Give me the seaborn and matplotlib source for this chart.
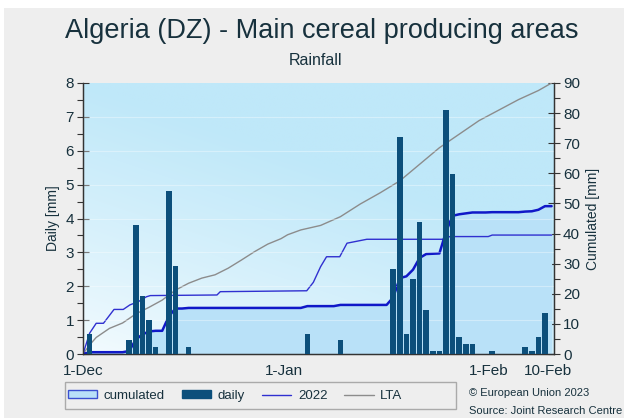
import numpy as np
import pandas as pd
import matplotlib
matplotlib.use("Agg")
import matplotlib.pyplot as plt
import seaborn as sns
from matplotlib.patches import Patch, Rectangle
from matplotlib.lines import Line2D
from matplotlib.ticker import MultipleLocator, FixedLocator
from matplotlib.colors import to_rgb

# ---------------- data ----------------
title = "Algeria (DZ) - Main cereal producing areas"
subtitle = "Rainfall"
y_left_label = "Daily [mm]"
y_right_label = "Cumulated [mm]"
x_tick_labels = ["1-Dec", "1-Jan", "1-Feb", "10-Feb"]
x_tick_days = [0, 30.5, 61.5, 70.5]
legend_labels = ["cumulated", "daily", "2022", "LTA"]
credit_lines = ["\u00a9 European Union 2023", "Source: Joint Research Centre"]

# daily rainfall (days since 1-Dec)
rain_days = [1, 7, 8, 9, 10, 11, 13, 14, 16, 34, 39, 47, 48, 49, 50, 51, 52, 53,
             54, 55, 56, 57, 58, 59, 62, 67, 68, 69, 70]
rain_mm = [0.6, 0.4, 3.8, 1.7, 1.0, 0.2, 4.8, 2.6, 0.2, 0.6, 0.4, 2.5, 6.4, 0.6,
           2.2, 3.9, 1.3, 0.1, 0.1, 7.2, 5.3, 0.5, 0.3, 0.3, 0.1, 0.2, 0.1, 0.5, 1.2]
season_last_day = 71

# previous season (2022) cumulated
y2022_days = [0, 1, 2, 3.1, 4.7, 6.1, 7.1, 8.4, 9.6, 10.2, 20.3, 20.8, 33.9, 34.9,
              36.0, 36.9, 38.9, 40.0, 43.0, 54.5, 55.6, 61.4, 62.0, 71.0]
y2022_mm = [0, 6.9, 10.2, 10.2, 14.8, 14.8, 16.3, 17.4, 19.0, 19.4, 19.6, 20.7, 21.0,
            23.8, 29.0, 32.3, 32.3, 36.8, 38.1, 38.1, 39.0, 39.0, 39.5, 39.5]

# long term average cumulated
lta_days = [0, 1, 2, 4, 6, 8, 10, 12, 14, 16, 18, 20, 22, 24, 26, 28, 30, 31, 33, 36,
            39, 42, 45, 48, 51, 54, 57, 60, 63, 66, 69, 71]
lta_mm = [0, 3.0, 5.5, 8.5, 10.3, 13.3, 15.5, 17.9, 21.2, 23.5, 25.2, 26.3, 28.5, 31.2,
          34.0, 36.5, 38.3, 39.6, 41.2, 42.7, 45.6, 49.8, 53.5, 57.5, 63.0, 68.5, 73.0,
          77.5, 81.0, 84.5, 87.5, 90.0]

# ---------------- style ----------------
sns.set_style("white")
plt.rcParams['font.family'] = ['Liberation Sans', 'DejaVu Sans']
text_col = "#17313d"
bar_col = "#0c4f7b"
cum_col = "#1018c8"
fill_col = "#b9e1f8"
col2022 = "#3030d0"
lta_col = "#8c8c8c"
fig_bg = "#eeeeee"

fig = plt.figure(figsize=(6.24, 4.18), dpi=100, facecolor="white")
fig.patches.append(Rectangle((4 / 624, 0), 1, 1 - 8 / 418, transform=fig.transFigure,
                             facecolor=fig_bg, edgecolor="none", zorder=-10))

L, R = 83 / 624, 554 / 624
B, T = 1 - 354 / 418, 1 - 83 / 418
ax = fig.add_axes([L, B, R - L, T - B])
ax2 = ax.twinx()
ax2.set_zorder(1)
ax.set_zorder(2)
ax.patch.set_visible(False)

# background gradient
W, H = 200, 200
gx = np.linspace(0, 1, W)[None, :]
gy = np.linspace(0, 1, H)[:, None]
t = np.clip(0.05 + 0.95 * gy + 0.55 * gx, 0, 1) ** 0.8
top = np.array(to_rgb("#bfe8f9"))
img = (1 - t)[..., None] * np.array([0.975, 0.992, 1.0]) + t[..., None] * top
ax2.imshow(img, extent=(0, 1, 0, 1), transform=ax2.transAxes, origin="lower",
           aspect="auto", zorder=0, interpolation="bilinear")

# cumulated series from daily values
daily = pd.Series(0.0, index=np.arange(season_last_day + 1))
daily.loc[rain_days] = rain_mm
cum = daily.cumsum()
cum_df = pd.DataFrame({"day": cum.index, "mm": cum.values})

ax2.fill_between(cum_df["day"], cum_df["mm"], 0, color=fill_col, lw=0, zorder=1)
sns.lineplot(x=lta_days, y=lta_mm, ax=ax2, color=lta_col, lw=1.0, zorder=2)
sns.lineplot(x=y2022_days, y=y2022_mm, ax=ax2, color=col2022, lw=1.0, zorder=3)
sns.lineplot(data=cum_df, x="day", y="mm", ax=ax2, color=cum_col, lw=1.8, zorder=4)

# daily bars
sns.barplot(x=rain_days, y=rain_mm, ax=ax, native_scale=True, width=0.87,
            color=bar_col, saturation=1, linewidth=0, zorder=3)

# faint grid
for yv in range(1, 8):
    ax.axhline(yv, color="white", lw=0.8, alpha=0.35, zorder=1)

xmax = (554 - 83) / 6.6
ax.set_xlim(0, xmax)
ax2.set_xlim(0, xmax)
ax.set_ylim(0, 8)
ax2.set_ylim(0, 90)

ax.xaxis.set_major_locator(FixedLocator(x_tick_days))
ax.set_xticklabels(x_tick_labels)
ax.xaxis.set_minor_locator(FixedLocator(np.arange(0.5, xmax, 1.0)))
ax.yaxis.set_major_locator(MultipleLocator(1))
ax.yaxis.set_minor_locator(MultipleLocator(0.5))
ax2.yaxis.set_major_locator(MultipleLocator(10))
ax2.yaxis.set_minor_locator(MultipleLocator(5))

ax.tick_params(axis="y", which="major", direction="inout", length=9, width=0.8,
               colors="#333333", labelcolor=text_col, labelsize=11, pad=2)
ax.tick_params(axis="y", which="minor", direction="out", length=4, width=0.8, colors="#333333")
ax.tick_params(axis="x", which="both", direction="out", length=4, width=0.8,
               colors="#333333", labelcolor=text_col, labelsize=11, pad=3)
ax2.tick_params(axis="y", which="major", direction="inout", length=9, width=0.8,
                colors="#333333", labelcolor=text_col, labelsize=11, pad=2)
ax2.tick_params(axis="y", which="minor", direction="out", length=4, width=0.8, colors="#333333")

for a in (ax, ax2):
    a.spines["top"].set_visible(False)
    for s in ("left", "right", "bottom"):
        a.spines[s].set_color("#333333")
        a.spines[s].set_linewidth(0.9)

ax.set_xlabel("")
ax.set_ylabel(y_left_label, fontsize=10, color=text_col, labelpad=4)
ax2.set_ylabel(y_right_label, fontsize=10, color=text_col, labelpad=4)

fig.text(0.515, 1 - 38 / 418, title, ha="center", va="baseline", fontsize=19.5, color=text_col)
fig.text(0.506, 1 - 65 / 418, subtitle, ha="center", va="baseline", fontsize=11.5, color=text_col)

# legend box + legend
fig.patches.append(Rectangle((65 / 624, 1 - 409 / 418), (456 - 65) / 624, 27 / 418,
                             transform=fig.transFigure, facecolor="none",
                             edgecolor="#aaaaaa", lw=1.0, zorder=5))
handles = [Patch(facecolor=fill_col, edgecolor="#3b50d0", lw=1.0),
           Patch(facecolor=bar_col, edgecolor=bar_col),
           Line2D([], [], color=col2022, lw=1.0),
           Line2D([], [], color=lta_col, lw=1.0)]
fig.legend(handles, legend_labels, loc="center left", bbox_to_anchor=(63 / 624, 1 - 396 / 418),
           ncol=4, frameon=False, fontsize=9.5, handlelength=2.2, handleheight=0.55,
           handletextpad=0.5, columnspacing=1.3, labelcolor=text_col, borderaxespad=0)

fig.text(469 / 624, 1 - 393 / 418, credit_lines[0], ha="left", va="center", fontsize=8, color=text_col)
fig.text(469 / 624, 1 - 411 / 418, credit_lines[1], ha="left", va="center", fontsize=8, color=text_col)

fig.savefig("out.png", dpi=100, facecolor=fig.get_facecolor())
